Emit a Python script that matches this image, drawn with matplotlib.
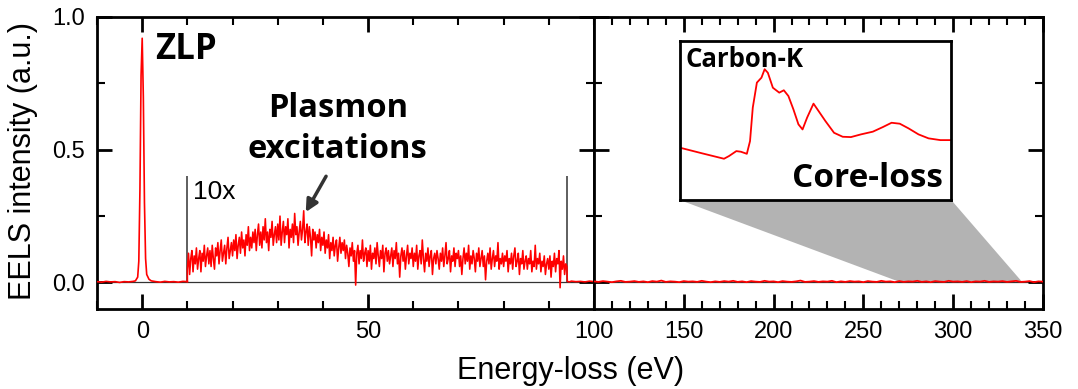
import matplotlib.pyplot as plt
import numpy as np
from matplotlib.patches import Polygon
from matplotlib.ticker import MultipleLocator, FormatStrFormatter

plt.rcParams["font.family"] = ["Liberation Sans", "DejaVu Sans"]

# zero-loss peak region, raw intensity (a.u.)
zlp_energy = [-10, -9, -8, -7, -6, -5, -4, -3, -2, -1.5, -1.0, -0.75, -0.5, -0.25, 0.0,
              0.25, 0.5, 0.75, 1.0, 1.5, 2, 3, 4, 5, 6, 7, 8, 9, 10]
zlp_intensity = [0.003, 0.001, 0.004, 0.002, 0.003, 0.000, 0.003, 0.002, 0.004, 0.006, 0.02,
                 0.08, 0.35, 0.78, 0.92, 0.70, 0.30, 0.09, 0.03, 0.012, 0.006, 0.003, 0.001,
                 0.004, 0.002, 0.003, 0.001, 0.004, 0.003]

# low-loss / plasmon region, shown 10x, 10 .. 94 eV in 0.25 eV steps
plasmon_start = 10.0
plasmon_step = 0.25
plasmon_intensity = [
    0.05, 0.11, 0.03, 0.09, 0.12, 0.04, 0.10, 0.07, 0.13, 0.05, 0.09, 0.12, 0.04, 0.11, 0.08, 0.14, 0.06, 0.10, 0.13, 0.07,
    0.12, 0.06, 0.14, 0.09, 0.05, 0.13, 0.10, 0.15, 0.07, 0.12, 0.16, 0.08, 0.11, 0.14, 0.07, 0.13, 0.17, 0.09, 0.12, 0.15,
    0.10, 0.16, 0.12, 0.18, 0.09, 0.14, 0.17, 0.11, 0.19, 0.13, 0.16, 0.10, 0.18, 0.14, 0.21, 0.12, 0.17, 0.13, 0.19, 0.15,
    0.20, 0.12, 0.18, 0.22, 0.14, 0.19, 0.13, 0.21, 0.16, 0.24, 0.15, 0.19, 0.12, 0.20, 0.17, 0.23, 0.14, 0.18, 0.21, 0.15,
    0.22, 0.16, 0.25, 0.14, 0.19, 0.23, 0.15, 0.21, 0.18, 0.24, 0.13, 0.20, 0.17, 0.22, 0.15, 0.26, 0.18, 0.21, 0.14, 0.19,
    0.23, 0.16, 0.20, 0.27, 0.15, 0.19, 0.22, 0.14, 0.21, 0.17, 0.10, 0.20, 0.16, 0.19, 0.13, 0.18, 0.15, 0.20, 0.12, 0.17,
    0.14, 0.19, 0.11, 0.16, 0.13, 0.18, 0.09, 0.15, 0.12, 0.17, 0.10, 0.14, 0.16, 0.08, 0.13, 0.17, 0.11, 0.15, 0.12, 0.16,
    0.09, 0.14, 0.11, 0.06, 0.13, 0.10, 0.15, 0.08, 0.12, -0.01, 0.11, 0.14, 0.07, 0.12, 0.09, 0.16, 0.08, 0.11, 0.13, 0.06,
    0.12, 0.08, 0.14, 0.05, 0.11, 0.09, 0.13, 0.07, 0.15, 0.10, 0.06, 0.12, 0.09, 0.14, 0.04, 0.11, 0.13, 0.08, 0.12, 0.07,
    0.10, 0.13, 0.06, 0.12, 0.09, 0.15, 0.07, 0.11, 0.02, 0.10, 0.13, 0.08, 0.12, 0.05, 0.10, 0.14, 0.07, 0.11, 0.09, 0.13,
    0.06, 0.11, 0.08, 0.14, 0.05, 0.10, 0.12, 0.07, 0.16, 0.09, 0.04, 0.11, 0.08, 0.13, 0.06, 0.10, 0.12, 0.03, 0.09, 0.11,
    0.07, 0.12, 0.09, 0.05, 0.11, 0.08, 0.13, 0.06, 0.10, 0.15, 0.07, 0.09, 0.12, 0.04, 0.10, 0.08, 0.13, 0.06, 0.11, 0.09,
    0.12, 0.06, 0.10, 0.03, 0.09, 0.13, 0.07, 0.11, 0.08, 0.14, 0.05, 0.10, 0.07, 0.12, 0.09, 0.04, 0.11, 0.08, 0.13, 0.06,
    0.09, 0.12, 0.06, 0.10, 0.01, 0.08, 0.11, 0.07, 0.13, 0.05, 0.09, 0.12, 0.06, 0.10, 0.08, 0.15, 0.05, 0.09, 0.07, 0.11,
    0.06, 0.10, 0.08, 0.12, 0.04, 0.09, 0.07, 0.11, 0.05, 0.10, 0.13, 0.06, 0.08, 0.11, 0.03, 0.09, 0.07, 0.12, 0.05, 0.08,
    0.10, 0.05, 0.09, 0.07, 0.12, 0.04, 0.08, 0.06, 0.14, 0.05, 0.09, 0.07, 0.11, 0.04, 0.08, 0.06, 0.10, 0.03, 0.07, 0.09,
    0.05, 0.10, 0.02, 0.08, 0.06, 0.11, 0.04, 0.09, 0.07, 0.12, -0.02, 0.08, 0.05, 0.10, 0.03, 0.07, 0.06,
]
plasmon_energy = plasmon_start + plasmon_step * np.arange(len(plasmon_intensity))

# raw tail after the 10x window, up to the axis break
tail_energy = [94.1, 94.5, 95, 96, 97, 98, 99, 100]
tail_intensity = [0.004, 0.002, 0.005, 0.003, 0.004, 0.002, 0.005, 0.003]

# core-loss range 100 .. 350 eV, raw intensity (2.5 eV steps)
core_start = 100.0
core_step = 2.5
core_intensity = [
    0.004, 0.002, 0.005, 0.003, 0.001, 0.004, 0.006, 0.002, 0.003, 0.005,
    0.002, 0.004, 0.001, 0.005, 0.003, 0.007, 0.002, 0.004, 0.003, 0.001,
    0.005, 0.003, 0.004, 0.002, 0.006, 0.003, 0.001, 0.004, 0.002, 0.005,
    0.003, 0.006, 0.002, 0.004, 0.001, 0.005, 0.003, 0.002, 0.006, 0.003,
    0.004, 0.001, 0.005, 0.003, 0.002, 0.004, 0.007, 0.002, 0.003, 0.005,
    0.002, 0.004, 0.003, 0.006, 0.001, 0.004, 0.002, 0.005, 0.003, 0.004,
    0.001, 0.005, 0.003, 0.002, 0.006, 0.003, 0.004, 0.001, 0.005, 0.002,
    0.004, 0.003, 0.006, 0.002, 0.004, 0.001, 0.005, 0.003, 0.002, 0.006,
    0.003, 0.004, 0.002, 0.005, 0.001, 0.004, 0.003, 0.006, 0.002, 0.004,
    0.003, 0.005, 0.002, 0.004, 0.006, 0.002, 0.003, 0.005, 0.001, 0.004,
    0.003,
]
core_energy = core_start + core_step * np.arange(len(core_intensity))

# Carbon-K edge (inset), relative intensity
inset_energy = [273.4, 278.2, 283.0, 284.1, 285.7, 286.7, 288.0, 288.7, 289.3, 290.2,
                291.2, 291.9, 292.6, 293.7, 295.1, 296.1, 297.1, 298.2, 299.3, 300.2,
                301.2, 302.6, 303.7, 305.2, 307.1, 309.0, 310.8, 313.0, 315.6, 317.8,
                319.7, 321.5, 323.4, 325.6, 327.8, 330.4, 332.8]
inset_intensity = [0.329, 0.294, 0.260, 0.277, 0.308, 0.304, 0.291, 0.371, 0.581, 0.738,
                   0.769, 0.822, 0.800, 0.706, 0.675, 0.690, 0.654, 0.570, 0.476, 0.444,
                   0.518, 0.606, 0.560, 0.497, 0.423, 0.398, 0.396, 0.413, 0.430, 0.459,
                   0.486, 0.480, 0.451, 0.413, 0.388, 0.377, 0.377]

RED = "#ff0000"
DARK = "#333333"
BOLD_FONT = ["Open Sans", "DejaVu Sans"]

fig = plt.figure(figsize=(10.78, 3.89), dpi=100)
ax_l = fig.add_axes([0.090, 0.2057, 0.461, 0.7506])
ax_r = fig.add_axes([0.551, 0.2057, 0.4165, 0.7506])

for ax in (ax_l, ax_r):
    ax.set_ylim(-0.1, 1.0)
    ax.set_yticks([0.0, 0.5, 1.0])
    ax.yaxis.set_major_formatter(FormatStrFormatter("%.1f"))
    ax.yaxis.set_minor_locator(MultipleLocator(0.25))
    ax.xaxis.set_minor_locator(MultipleLocator(10))
    ax.tick_params(which="both", direction="in", top=True, right=True,
                   labelsize=17, width=2)
    ax.tick_params(which="major", length=11, pad=9)
    ax.tick_params(which="minor", length=6, width=1.5)
    for sp in ax.spines.values():
        sp.set_linewidth(2)
    ax.axhline(0, color=DARK, lw=0.9, zorder=1)

# left panel: ZLP + plasmon (10x)
ax_l.set_xlim(-10, 100)
ax_l.set_xticks([0, 50, 100])
ax_l.plot(zlp_energy, zlp_intensity, color=RED, lw=1.2, zorder=3)
ax_l.plot(np.concatenate([[zlp_energy[-1]], plasmon_energy, tail_energy]),
          np.concatenate([[zlp_intensity[-1]], plasmon_intensity, tail_intensity]),
          color=RED, lw=1.15, zorder=3)
ax_l.vlines([plasmon_energy[0], plasmon_energy[-1]], 0, 0.40, color=DARK, lw=1.1, zorder=2)

ax_l.text(plasmon_energy[0] + 1.2, 0.34, "10x", fontsize=19, va="center", ha="left")
ax_l.text(2.8, 0.875, "ZLP", fontsize=25, fontweight="bold", family=BOLD_FONT,
          va="center", ha="left")
ax_l.text(43.3, 0.578, "Plasmon\nexcitations", fontsize=23.5, fontweight="bold",
          family=BOLD_FONT, ha="center", va="center", linespacing=1.35)
ax_l.annotate("", xy=(36.2, 0.265), xytext=(40.7, 0.40),
              arrowprops=dict(arrowstyle="-|>", color=DARK, lw=2.5, mutation_scale=18,
                              shrinkA=0, shrinkB=0))

# right panel: core-loss
ax_r.set_xlim(100, 350)
ax_r.set_xticks([150, 200, 250, 300, 350])
ax_r.tick_params(axis="y", labelleft=False)
ax_r.plot(core_energy, core_intensity, color=RED, lw=1.3, zorder=3)

ax_r.add_patch(Polygon([(148, 0.31), (299, 0.31), (338, 0.005), (269, 0.005)],
                       closed=True, facecolor="#b3b3b3", edgecolor="none", zorder=2))

ax_in = ax_r.inset_axes([148, 0.31, 151, 0.60], transform=ax_r.transData, zorder=5)
ax_in.plot(inset_energy, inset_intensity, color=RED, lw=1.3)
ax_in.set_xlim(273.4, 332.8)
ax_in.set_ylim(0, 1)
ax_in.set_xticks([])
ax_in.set_yticks([])
for sp in ax_in.spines.values():
    sp.set_linewidth(2)
ax_in.text(0.02, 0.97, "Carbon-K", transform=ax_in.transAxes, fontsize=18.5,
           fontweight="bold", family=BOLD_FONT, ha="left", va="top")
ax_in.text(0.97, 0.03, "Core-loss", transform=ax_in.transAxes, fontsize=24,
           fontweight="bold", family=BOLD_FONT, ha="right", va="bottom")

fig.text(0.021, 0.585, "EELS intensity (a.u.)", rotation=90, fontsize=22,
         ha="center", va="center")
fig.text(0.529, 0.025, "Energy-loss (eV)", fontsize=22, ha="center", va="baseline")

fig.savefig("out.png", dpi=100)
